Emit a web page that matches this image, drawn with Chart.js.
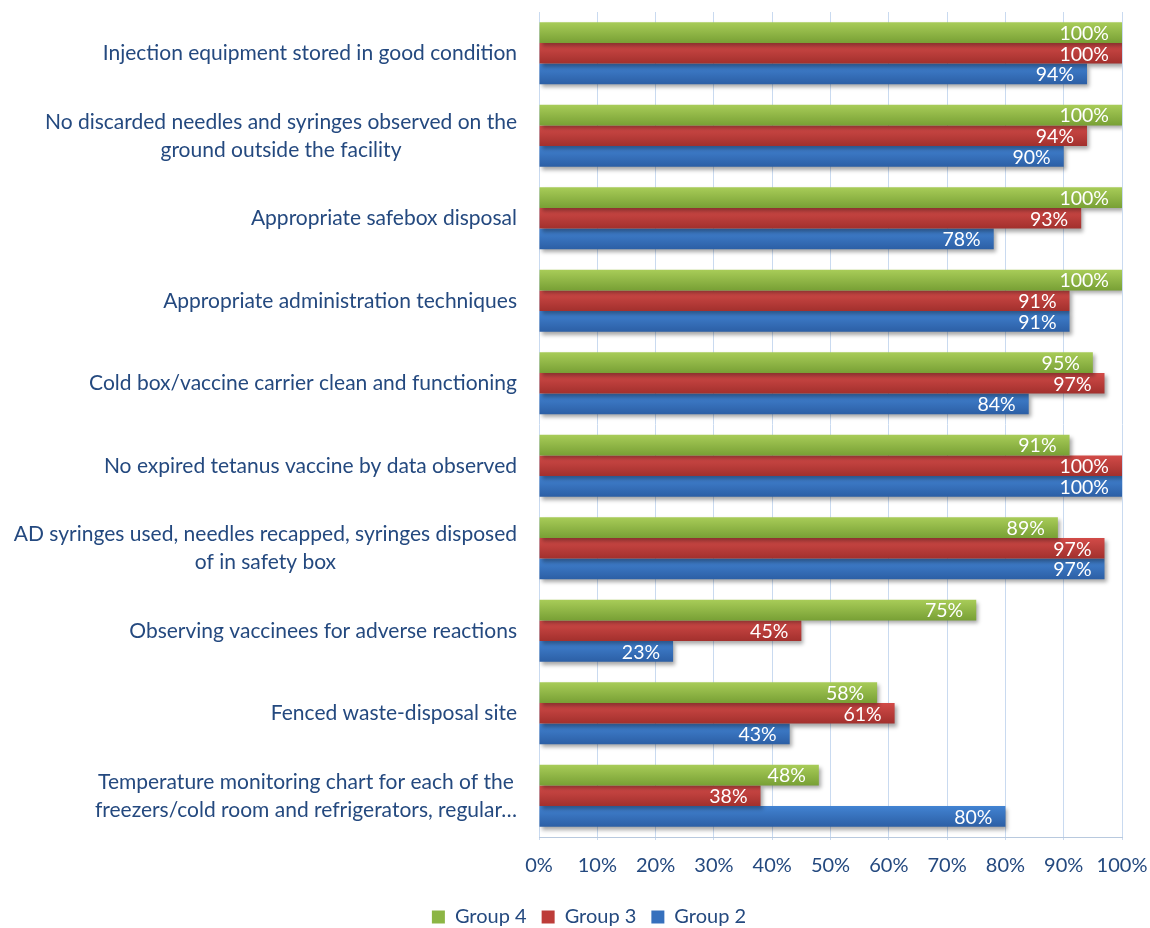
<!DOCTYPE html>
<html>
<head>
<meta charset="utf-8">
<script src="https://cdn.jsdelivr.net/npm/chart.js@4"></script>
<style>
  html, body { margin: 0; padding: 0; background: #fff; }
  #wrap { width: 1150px; height: 928px; }
</style>
</head>
<body>
<div id="wrap"><canvas id="chart"></canvas></div>
<script>
const categories = [
  ['Injection equipment stored in good condition'],
  ['No discarded needles and syringes observed on the', 'ground outside the facility'],
  ['Appropriate safebox disposal'],
  ['Appropriate administration techniques'],
  ['Cold box/vaccine carrier clean and functioning'],
  ['No expired tetanus vaccine by data observed'],
  ['AD syringes used, needles recapped, syringes disposed', 'of in safety box'],
  ['Observing vaccinees for adverse reactions'],
  ['Fenced waste-disposal site'],
  ['Temperature monitoring chart for each of the', 'freezers/cold room and refrigerators, regular\u2026'],
];
const group4 = [100, 100, 100, 100, 95, 91, 89, 75, 58, 48];
const group3 = [100, 94, 93, 91, 97, 100, 97, 45, 61, 38];
const group2 = [94, 90, 78, 91, 84, 100, 97, 23, 43, 80];
const xTicks = [0, 10, 20, 30, 40, 50, 60, 70, 80, 90, 100];

const textColor = '#24497f';
const fontFamily = 'Lato, "Open Sans", sans-serif';

// top / bottom shades of each bar's gradient
const shades = {
  g4: ['#a8cc58', '#78a035'],
  g3: ['#d24b48', '#a2302d'],
  g2: ['#4283d2', '#2c5fa5'],
};

function gradient(pair) {
  return (c) => {
    const el = c.element;
    if (c.type !== 'data' || !el || el.height == null || isNaN(el.y)) return pair[1];
    const g = c.chart.ctx.createLinearGradient(0, el.y - el.height / 2, 0, el.y + el.height / 2);
    g.addColorStop(0, pair[0]);
    g.addColorStop(1, pair[1]);
    return g;
  };
}

const shadowPlugin = {
  id: 'barShadow',
  beforeDatasetDraw(chart) {
    const ctx = chart.ctx;
    ctx.save();
    ctx.shadowColor = 'rgba(0,0,0,0.35)';
    ctx.shadowOffsetX = 2;
    ctx.shadowOffsetY = 3;
    ctx.shadowBlur = 4;
  },
  afterDatasetDraw(chart) {
    chart.ctx.restore();
  },
};

const valueLabels = {
  id: 'valueLabels',
  afterDatasetsDraw(chart) {
    const ctx = chart.ctx;
    ctx.save();
    ctx.font = '19.5px ' + fontFamily;
    ctx.fillStyle = '#ffffff';
    ctx.textAlign = 'right';
    ctx.textBaseline = 'middle';
    chart.data.datasets.forEach((ds, di) => {
      chart.getDatasetMeta(di).data.forEach((bar, i) => {
        ctx.fillText(ds.data[i] + '%', bar.x - 13, bar.y + 1);
      });
    });
    ctx.restore();
  },
};

// category labels: block right-aligned to the axis, lines centred on each other
const categoryLabels = {
  id: 'categoryLabels',
  afterDraw(chart) {
    const ctx = chart.ctx;
    const y = chart.scales.y;
    const right = chart.chartArea.left - 22;
    const lineH = 28;
    ctx.save();
    ctx.font = '21px ' + fontFamily;
    ctx.fillStyle = textColor;
    ctx.textAlign = 'center';
    ctx.textBaseline = 'middle';
    categories.forEach((lines, i) => {
      const cy = y.getPixelForValue(i);
      const w = Math.max(...lines.map(l => ctx.measureText(l).width));
      const cx = right - w / 2;
      lines.forEach((l, k) => {
        ctx.fillText(l, cx, cy + (k - (lines.length - 1) / 2) * lineH);
      });
    });
    ctx.restore();
  },
};

const datasets = [
  { label: 'Group 4', data: group4, solid: '#8cb544', backgroundColor: gradient(shades.g4) },
  { label: 'Group 3', data: group3, solid: '#bd3c39', backgroundColor: gradient(shades.g3) },
  { label: 'Group 2', data: group2, solid: '#3670bd', backgroundColor: gradient(shades.g2) },
];

const chart = new Chart(document.getElementById('chart'), {
  type: 'bar',
  data: {
    labels: categories.map(c => c.join(' ')),
    datasets: datasets.map(d => ({
      label: d.label,
      data: d.data,
      backgroundColor: d.backgroundColor,
      borderWidth: 0,
      categoryPercentage: 0.75,
      barPercentage: 1.0,
    })),
  },
  options: {
    indexAxis: 'y',
    responsive: true,
    maintainAspectRatio: false,
    animation: false,
    layout: { padding: { left: 56, right: 28, top: 12, bottom: -9 } },
    scales: {
      x: {
        min: 0,
        max: 100,
        afterBuildTicks: (axis) => { axis.ticks = xTicks.map(v => ({ value: v })); },
        afterFit: (axis) => { axis.paddingLeft = 0; axis.paddingRight = 0; },
        grid: { color: '#c9daf0', lineWidth: 1, drawTicks: true, tickLength: 3 },
        border: { color: '#b8c9de' },
        ticks: {
          color: textColor,
          font: { family: fontFamily, size: 20 },
          padding: 14,
          callback: (v) => v + '%',
        },
      },
      y: {
        grid: { display: false },
        border: { display: false },
        ticks: { display: false },
        afterFit: (axis) => { axis.width = 483; },
      },
    },
    plugins: {
      legend: {
        position: 'bottom',
        labels: {
          color: textColor,
          font: { family: fontFamily, size: 20 },
          boxWidth: 13,
          boxHeight: 13,
          padding: 15,
          generateLabels: (c) => c.data.datasets.map((ds, i) => ({
            text: ds.label,
            fillStyle: datasets[i].solid,
            strokeStyle: datasets[i].solid,
            lineWidth: 0,
            fontColor: textColor,
            datasetIndex: i,
          })),
        },
      },
      tooltip: { enabled: false },
    },
  },
  plugins: [shadowPlugin, valueLabels, categoryLabels],
});
// second pass so the gradients can use the laid-out bar positions
chart.update();
</script>
</body>
</html>
